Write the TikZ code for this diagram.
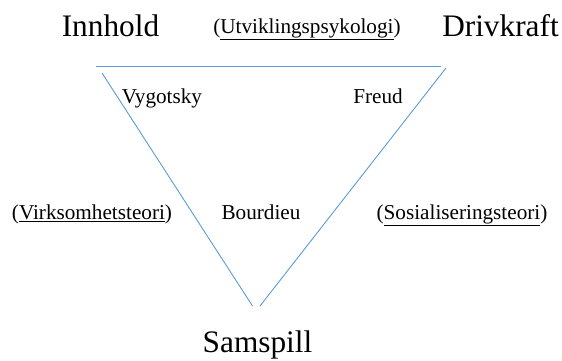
\documentclass[tikz,border=0pt]{standalone}
\usepackage{fontspec}
\newfontfamily\tnr{Liberation Serif}
\definecolor{lineblue}{HTML}{5B9BD5}
\begin{document}
\begin{tikzpicture}[x=1pt,y=-1pt,
  big/.style={anchor=base,inner sep=0pt,font=\tnr\fontsize{31.3}{36}\selectfont},
  small/.style={anchor=base,inner sep=0pt,font=\tnr\fontsize{21.2}{24}\selectfont},
  edge/.style={draw=lineblue,line width=0.9pt}]
\useasboundingbox (0,0) rectangle (562,360);
\node[big] (innhold) at (110.5,36) {Innhold};
\node[big] (drivkraft) at (500.5,36) {Drivkraft};
\node[big] (samspill) at (257.5,352) {Samspill};
\node[small] (utv) at (307,33) {(\underline{Utviklingspsykologi})};
\node[small] (vyg) at (162,103) {Vygotsky};
\node[small] (freud) at (378,103) {Freud};
\node[small] (virk) at (92,219) {(\underline{Virksomhetsteori})};
\node[small] (bourdieu) at (261,219) {Bourdieu};
\node[small] (sos) at (462,219) {(\underline{Sosialiseringsteori})};
\coordinate (tl) at (96,66);
\coordinate (tr) at (441,66);
\coordinate (ls) at (102,73);
\coordinate (le) at (252.5,306);
\coordinate (rs) at (446,68);
\coordinate (re) at (260,306);
\draw[edge] (tl) -- (tr);
\draw[edge] (ls) -- (le);
\draw[edge] (rs) -- (re);
\end{tikzpicture}
\end{document}
